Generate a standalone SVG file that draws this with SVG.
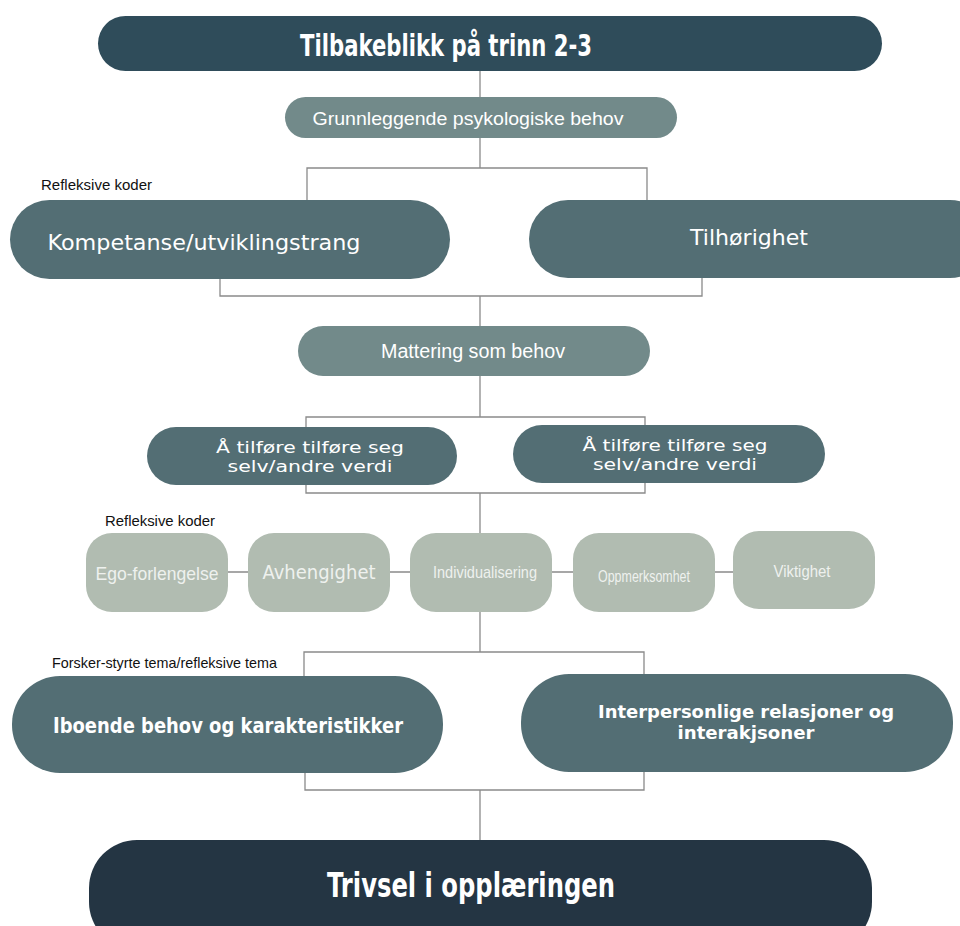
<svg xmlns="http://www.w3.org/2000/svg" width="960" height="926" viewBox="0 0 960 926">
<style>
.c{fill:none;stroke:#8a8a8a;stroke-width:1.3}
.t{font-family:"DejaVu Sans","Liberation Sans",sans-serif;fill:#ffffff;text-anchor:middle}
.n{font-family:"Liberation Sans Narrow","Liberation Sans",sans-serif}
.lbl{font-family:"Liberation Sans Narrow","Liberation Sans",sans-serif;fill:#111;font-size:15px}
.b{font-weight:bold}
.dark{fill:#2f4c5a}
.mid{fill:#536e74}
.light{fill:#728a8a}
.pale{fill:#b1bcb1}
.deep{fill:#243543}
.pt{fill:#eef1ee}
</style>
<rect width="960" height="926" fill="#ffffff"/>
<g id="connectors">
<path class="c" d="M480 71V97"/>
<path class="c" d="M480 138V168M307 200V168H647V200"/>
<path class="c" d="M220 279V296H702V278M480 296V326"/>
<path class="c" d="M480 376V417M306 427V417H645V425"/>
<path class="c" d="M306 485V493H645V483M480 493V533"/>
<path class="c" d="M228 572H248M390 572H410M552 572H573M715 572H733"/>
<path class="c" d="M480 612V652M304 676V652H644V674"/>
<path class="c" d="M305 773V790H644V772M480 790V840"/>
</g>
<g id="title">
<rect class="dark" x="98" y="16" width="784" height="55" rx="27.5"/>
<text class="t b" x="446" y="56" font-size="30" textLength="292" lengthAdjust="spacingAndGlyphs">Tilbakeblikk på trinn 2-3</text>
</g>
<g id="grunnleggende">
<rect class="light" x="285" y="97" width="392" height="41" rx="20.5"/>
<text class="t n" x="468" y="125" font-size="19" fill="#eef1f1" textLength="311" lengthAdjust="spacingAndGlyphs">Grunnleggende psykologiske behov</text>
</g>
<g id="label1"><text class="lbl" x="41" y="190" textLength="111" lengthAdjust="spacingAndGlyphs">Refleksive koder</text></g>
<g id="kompetanse">
<rect class="mid" x="10" y="200" width="440" height="79" rx="39.5"/>
<text class="t" x="204" y="250" font-size="21" textLength="313" lengthAdjust="spacingAndGlyphs">Kompetanse/utviklingstrang</text>
</g>
<g id="tilhorighet">
<rect class="mid" x="529" y="200" width="460" height="78" rx="39"/>
<text class="t" x="749" y="245" font-size="21" textLength="118" lengthAdjust="spacingAndGlyphs">Tilhørighet</text>
</g>
<g id="mattering">
<rect class="light" x="298" y="326" width="352" height="50" rx="25"/>
<text class="t n" x="473" y="358" font-size="20" textLength="184" lengthAdjust="spacingAndGlyphs">Mattering som behov</text>
</g>
<g id="tilfore1">
<rect class="mid" x="147" y="427" width="310" height="58" rx="29"/>
<text class="t" x="310" y="453" font-size="16" textLength="188" lengthAdjust="spacingAndGlyphs">Å tilføre tilføre seg</text>
<text class="t" x="310" y="472" font-size="16" textLength="165" lengthAdjust="spacingAndGlyphs">selv/andre verdi</text>
</g>
<g id="tilfore2">
<rect class="mid" x="513" y="425" width="312" height="58" rx="29"/>
<text class="t" x="675" y="451" font-size="16" textLength="185" lengthAdjust="spacingAndGlyphs">Å tilføre tilføre seg</text>
<text class="t" x="675" y="470" font-size="16" textLength="164" lengthAdjust="spacingAndGlyphs">selv/andre verdi</text>
</g>
<g id="label2"><text class="lbl" x="105" y="526" textLength="110" lengthAdjust="spacingAndGlyphs">Refleksive koder</text></g>
<g id="ego">
<rect class="pale" x="86" y="533" width="142" height="79" rx="26"/>
<text class="t n pt" x="157" y="580" font-size="19" textLength="123" lengthAdjust="spacingAndGlyphs">Ego-forlengelse</text>
</g>
<g id="avhengighet">
<rect class="pale" x="248" y="533" width="142" height="79" rx="26"/>
<text class="t pt" x="319" y="579" font-size="20" textLength="113" lengthAdjust="spacingAndGlyphs">Avhengighet</text>
</g>
<g id="individualisering">
<rect class="pale" x="410" y="533" width="142" height="79" rx="26"/>
<text class="t n pt" x="485" y="578" font-size="17" textLength="104" lengthAdjust="spacingAndGlyphs">Individualisering</text>
</g>
<g id="oppmerksomhet">
<rect class="pale" x="573" y="533" width="142" height="79" rx="26"/>
<text class="t n pt" x="644" y="582" font-size="16" textLength="92" lengthAdjust="spacingAndGlyphs">Oppmerksomhet</text>
</g>
<g id="viktighet">
<rect class="pale" x="733" y="531" width="142" height="78" rx="26"/>
<text class="t n pt" x="802" y="577" font-size="17" textLength="57" lengthAdjust="spacingAndGlyphs">Viktighet</text>
</g>
<g id="label3"><text class="lbl" x="52" y="668" textLength="225" lengthAdjust="spacingAndGlyphs">Forsker-styrte tema/refleksive tema</text></g>
<g id="iboende">
<rect class="mid" x="12" y="676" width="431" height="97" rx="48"/>
<text class="t b" x="228" y="733" font-size="21" textLength="350" lengthAdjust="spacingAndGlyphs">Iboende behov og karakteristikker</text>
</g>
<g id="interpersonlige">
<rect class="mid" x="521" y="674" width="432" height="98" rx="48"/>
<text class="t b" x="746" y="718" font-size="18" textLength="296" lengthAdjust="spacingAndGlyphs">Interpersonlige relasjoner og</text>
<text class="t b" x="746" y="739" font-size="18" textLength="137" lengthAdjust="spacingAndGlyphs">interakjsoner</text>
</g>
<g id="trivsel">
<rect class="deep" x="89" y="840" width="783" height="110" rx="48"/>
<text class="t b" x="471" y="897" font-size="34" textLength="288" lengthAdjust="spacingAndGlyphs">Trivsel i opplæringen</text>
</g>
</svg>
